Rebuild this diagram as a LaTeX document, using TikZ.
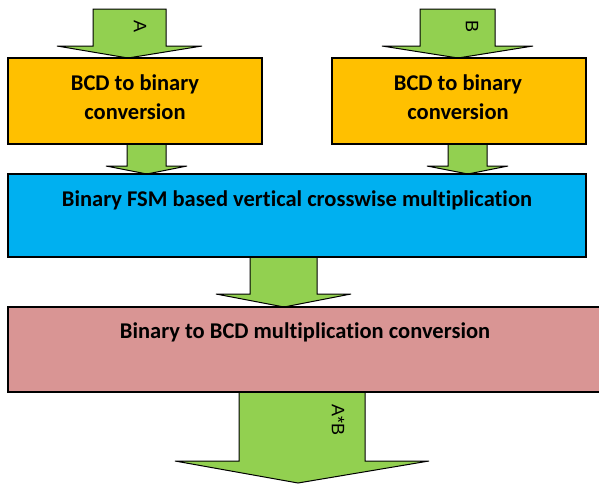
\documentclass[tikz,border=0pt]{standalone}
\usepackage{fontspec}
\setmainfont[Ligatures=NoCommon]{Carlito}
\newfontfamily\labfont{Liberation Sans}
\usetikzlibrary{calc}
\definecolor{boxorange}{HTML}{FFC000}
\definecolor{boxblue}{HTML}{00B0F0}
\definecolor{boxpink}{HTML}{D99594}
\definecolor{arrgreen}{HTML}{92D050}
\tikzset{
  blockbox/.style={draw=black, line width=1.3pt, rectangle, inner sep=0pt},
  boxtext/.style={font=\fontsize{22.5}{29}\selectfont\bfseries, align=center, inner sep=0pt},
  arrowshape/.style={draw=black, line width=1pt, fill=arrgreen, line join=miter},
  arrlabel/.style={font=\labfont\fontsize{18}{18}\selectfont, rotate=-90, inner sep=0pt}
}
% #1 start (top centre), #2 tip, #3 half shaft, #4 half wing, #5 head length
\newcommand\blkarrow[5]{%
  \draw[arrowshape] let \p1=(#1), \p2=(#2) in
    (\x1-#3,\y1) -- (\x1+#3,\y1) -- (\x1+#3,\y2+#5) -- (\x1+#4,\y2+#5)
    -- (\x2,\y2) -- (\x1-#4,\y2+#5) -- (\x1-#3,\y2+#5) -- cycle;}
\begin{document}
\begin{tikzpicture}[x=1pt,y=-1pt]
\useasboundingbox (0,0) rectangle (599,485);
% anchor coordinates for the arrows
\coordinate (inA) at (129.5,9);
\coordinate (tipA) at (128,58);
\coordinate (inB) at (457.5,9);
\coordinate (tipB) at (458,58);
\coordinate (s1) at (146.5,144);
\coordinate (t1) at (147,174);
\coordinate (s2) at (467.5,144);
\coordinate (t2) at (468,174);
\coordinate (s3) at (283.5,257);
\coordinate (t3) at (284,307);
\coordinate (s4) at (302,392);
\coordinate (out) at (298,483);
% arrows (drawn first, boxes cover the joins)
\blkarrow{inA}{tipA}{36.5pt}{72.5pt}{12pt}
\blkarrow{inB}{tipB}{37.5pt}{75.5pt}{12pt}
\blkarrow{s1}{t1}{19.5pt}{40.5pt}{8pt}
\blkarrow{s2}{t2}{19.5pt}{40.5pt}{8pt}
\blkarrow{s3}{t3}{33.5pt}{67.5pt}{13pt}
\blkarrow{s4}{out}{63pt}{127pt}{22pt}
% boxes
\node[blockbox, fill=boxorange, minimum width=254pt, minimum height=86pt] (conv1) at (135,101) {};
\node[blockbox, fill=boxorange, minimum width=254pt, minimum height=86pt] (conv2) at (459,101) {};
\node[blockbox, fill=boxblue, minimum width=578pt, minimum height=83pt] (mult) at (297,215.5) {};
\node[blockbox, fill=boxpink, minimum width=600pt, minimum height=85pt] (back) at (308,349.5) {};
% texts
\node[boxtext] (t-conv1) at (135,97.5) {BCD to binary\\conversion};
\node[boxtext] (t-conv2) at (458,97.5) {BCD to binary\\conversion};
\node[boxtext] (t-mult) at (297,200) {Binary FSM based vertical crosswise multiplication};
\node[boxtext] (t-back) at (305,332) {Binary to BCD multiplication conversion};
\node[arrlabel] (lA) at (140,27) {A};
\node[arrlabel] (lB) at (472,27) {B};
\node[arrlabel] (lAB) at (338,420) {A*B};
\end{tikzpicture}
\end{document}
